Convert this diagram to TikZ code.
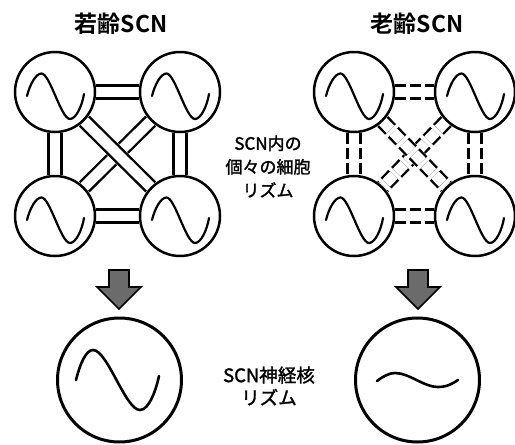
\documentclass[tikz,border=0pt]{standalone}
\usepackage{fontspec}
\newfontfamily\cjk{Noto Sans CJK JP}[FakeBold=1.6]
\newfontfamily\cjkbold{Noto Sans CJK JP Bold}
\usetikzlibrary{calc}
\pgfdeclarelayer{bg}
\pgfsetlayers{bg,main}
\begin{document}
\begin{tikzpicture}[x=1pt,y=-1pt,
  cell/.style={circle, draw, line width=2.5pt, fill=white, minimum size=80pt, inner sep=0pt,
    path picture={\draw[line width=2.2pt, line cap=round, shift={(path picture bounding box.center)}]
      (-28,4) .. controls (-25,-8) and (-19,-18.5) .. (-13.5,-18.5)
      .. controls (-5,-18.5) and (6,27) .. (15,27)
      .. controls (21,27) and (27,14) .. (29,2);}},
  big/.style={circle, draw, line width=3pt, fill=white, minimum size=124pt, inner sep=0pt},
  bigwave/.style={path picture={\draw[line width=2.6pt, line cap=round, shift={(path picture bounding box.center)}]
      (-43.5,0) .. controls (-39,-18) and (-33,-30) .. (-26.5,-30)
      .. controls (-12,-30) and (6,30) .. (20.5,30)
      .. controls (30,30) and (37,8) .. (39.5,-4);}},
  flatwave/.style={path picture={\draw[line width=2.6pt, line cap=round, shift={(path picture bounding box.center)}]
      (-40.5,1) .. controls (-34,-4) and (-28,-7) .. (-22.5,-7)
      .. controls (-8,-7) and (6,7) .. (20.5,7)
      .. controls (30,7) and (36,3) .. (40.5,0);}},
  bar/.style={line width=2.4pt, double=white, double distance=10.5pt},
  dbar/.style={bar, dash pattern=on 11pt off 4pt},
  cover/.style={white, line width=16pt},
  blockarrow/.style={draw=black, line width=1.6pt, fill=black!58, line join=miter},
  title/.style={font=\cjkbold\fontsize{23}{27}\selectfont, inner sep=0pt},
  lbl/.style={font=\cjk\fontsize{17}{23.5}\selectfont, align=center, inner sep=0pt},
  lbltwo/.style={font=\cjk\fontsize{18.5}{22.5}\selectfont, align=center, inner sep=0pt}
]
\useasboundingbox (0,0) rectangle (515,445);
\begin{pgfonlayer}{bg}
\fill[white] (0,0) rectangle (515,445);
\end{pgfonlayer}

% titles
\node[title] (tl) at (121,24) {若齢SCN};
\node[title] (tr) at (417,24) {老齢SCN};

% young SCN cells
\node[cell] (l1) at (55,92) {};
\node[cell] (l2) at (180,92) {};
\node[cell] (l3) at (55,216) {};
\node[cell] (l4) at (180,216) {};
% old SCN cells
\node[cell] (r1) at (354,92) {};
\node[cell] (r2) at (475,92) {};
\node[cell] (r3) at (354,216) {};
\node[cell] (r4) at (475,216) {};

\begin{pgfonlayer}{bg}
\draw[bar] (l1) -- (l2);
\draw[bar] (l3) -- (l4);
\draw[bar] (l1) -- (l3);
\draw[bar] (l2) -- (l4);
\draw[bar] (l2) -- (l3);
\draw[cover] (l1) -- (l4);
\draw[bar] (l1) -- (l4);

\draw[dbar] (r1) -- (r2);
\draw[dbar] (r3) -- (r4);
\draw[dbar] (r1) -- (r3);
\draw[dbar] (r2) -- (r4);
\draw[dbar] (r2) -- (r3);
\draw[cover] (r1) -- (r4);
\draw[dbar] (r1) -- (r4);
\end{pgfonlayer}

% labels
\node[lbl] (mid) at (268,166.5) {SCN内の\\個々の細胞\\リズム};
\node[lbltwo] (bot) at (269,386) {SCN神経核\\リズム};

% arrows
\coordinate (al) at (119,270);
\coordinate (ar) at (418,270);
\draw[blockarrow, shift={(al)}] (-10,0) -- (10,0) -- (10,17) -- (22,17) -- (0,39) -- (-22,17) -- (-10,17) -- cycle;
\draw[blockarrow, shift={(ar)}] (-10,0) -- (10,0) -- (10,17) -- (22,17) -- (0,39) -- (-22,17) -- (-10,17) -- cycle;

% SCN rhythm
\node[big, bigwave] (bl) at (119.5,380) {};
\node[big, flatwave] (br) at (417.5,380) {};
\end{tikzpicture}
\end{document}
